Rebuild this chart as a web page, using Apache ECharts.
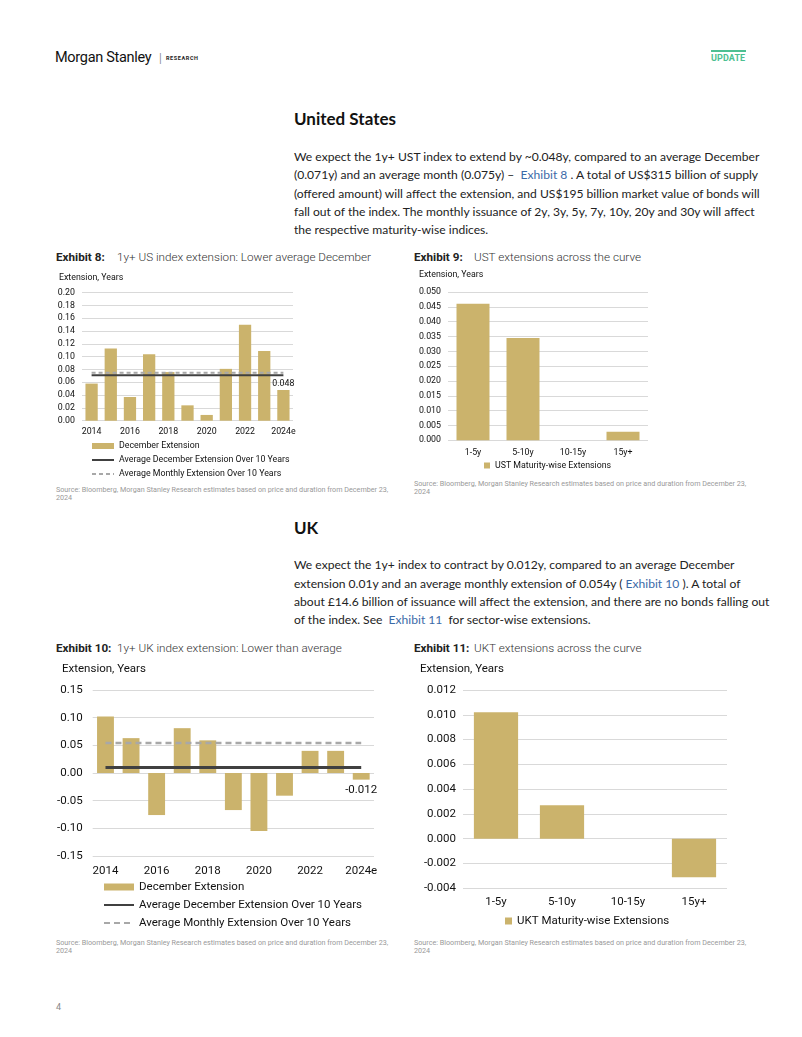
<!DOCTYPE html>
<html><head><meta charset="utf-8">
<script src="https://cdn.jsdelivr.net/npm/echarts@6/dist/echarts.min.js"></script>
<style>
html,body{margin:0;padding:0;background:#fff;}
body{width:802px;height:1037px;position:relative;overflow:hidden;font-family:Lato,"Open Sans",sans-serif;color:#222;}
.t{position:absolute;white-space:nowrap;}
.chart{position:absolute;left:0;top:0;width:802px;height:1037px;}
.p{font-family:Lato,"Open Sans",sans-serif;font-size:12.1px;color:#222;}
.lnk{color:#3b6aa8;}
.ex{font-family:Roboto,sans-serif;font-size:11.7px;color:#222;}
.ex b{font-weight:700;}
.ex span{font-weight:300;color:#333;}
.src{font-family:Roboto,sans-serif;font-size:7.2px;color:#999;line-height:8px;}
</style></head>
<body>
<div class="t" style="left:55px;top:49px;font-family:'Liberation Sans Narrow','Roboto',sans-serif;font-size:14.5px;color:#111;letter-spacing:-0.3px;">Morgan Stanley</div>
<div class="t" style="left:159px;top:51px;font-size:11px;color:#888;">|</div>
<div class="t" style="left:166px;top:55px;font-family:Roboto,sans-serif;font-size:5.5px;font-weight:700;letter-spacing:0.6px;color:#222;">RESEARCH</div>
<div class="t" style="left:711px;top:50px;width:35px;height:2px;background:#4dbf92;"></div>
<div class="t" style="left:711px;top:53px;font-family:Roboto,sans-serif;font-size:9px;font-weight:700;color:#4dbf92;letter-spacing:0.1px;">UPDATE</div>

<div class="t" style="left:294px;top:108px;font-family:Lato,sans-serif;font-size:17px;font-weight:700;color:#111;">United States</div>
<div class="t p" style="left:294px;top:149px;">We expect the 1y+ UST index to extend by ~0.048y, compared to an average December</div>
<div class="t p" style="left:294px;top:167px;">(0.071y) and an average month (0.075y) – &nbsp;<span class="lnk">Exhibit 8</span> . A total of US$315 billion of supply</div>
<div class="t p" style="left:294px;top:185.5px;">(offered amount) will affect the extension, and US$195 billion market value of bonds will</div>
<div class="t p" style="left:294px;top:204px;">fall out of the index. The monthly issuance of 2y, 3y, 5y, 7y, 10y, 20y and 30y will affect</div>
<div class="t p" style="left:294px;top:222px;">the respective maturity-wise indices.</div>

<div class="t ex" style="left:56px;top:250px;"><b>Exhibit 8:</b></div>
<div class="t ex" style="left:117px;top:250px;"><span>1y+ US index extension: Lower average December</span></div>
<div class="t ex" style="left:414px;top:250px;"><b>Exhibit 9:</b></div>
<div class="t ex" style="left:474px;top:250px;"><span>UST extensions across the curve</span></div>

<div class="t src" style="left:56px;top:486px;">Source: Bloomberg, Morgan Stanley Research estimates based on price and duration from December 23,<br>2024</div>
<div class="t src" style="left:414px;top:480px;">Source: Bloomberg, Morgan Stanley Research estimates based on price and duration from December 23,<br>2024</div>

<div class="t" style="left:294px;top:517px;font-family:Lato,sans-serif;font-size:17px;font-weight:700;color:#111;">UK</div>
<div class="t p" style="left:294px;top:557px;">We expect the 1y+ index to contract by 0.012y, compared to an average December</div>
<div class="t p" style="left:294px;top:575.5px;">extension 0.01y and an average monthly extension of 0.054y ( <span class="lnk">Exhibit 10</span> ). A total of</div>
<div class="t p" style="left:294px;top:594px;">about £14.6 billion of issuance will affect the extension, and there are no bonds falling out</div>
<div class="t p" style="left:294px;top:612px;">of the index. See &nbsp;<span class="lnk">Exhibit 11</span> &nbsp;for sector-wise extensions.</div>

<div class="t ex" style="left:56px;top:641px;"><b>Exhibit 10:</b></div>
<div class="t ex" style="left:117px;top:641px;"><span>1y+ UK index extension: Lower than average</span></div>
<div class="t ex" style="left:414px;top:641px;"><b>Exhibit 11:</b></div>
<div class="t ex" style="left:474px;top:641px;"><span>UKT extensions across the curve</span></div>

<div class="t src" style="left:56px;top:939px;">Source: Bloomberg, Morgan Stanley Research estimates based on price and duration from December 23,<br>2024</div>
<div class="t src" style="left:414px;top:939px;">Source: Bloomberg, Morgan Stanley Research estimates based on price and duration from December 23,<br>2024</div>

<div class="t" style="left:56px;top:1002px;font-family:Roboto,sans-serif;font-size:9px;color:#888;">4</div>

<div id="c8" class="chart"></div>
<div id="c9" class="chart"></div>
<div id="c10" class="chart"></div>
<div id="c11" class="chart"></div>

<script>
// ---- data ----
const years = ['2014','2015','2016','2017','2018','2019','2020','2021','2022','2023','2024e'];
const usDecExt = [0.058, 0.113, 0.037, 0.104, 0.076, 0.024, 0.009, 0.081, 0.150, 0.109, 0.048];
const usAvgDec = 0.071;
const usAvgMonth = 0.075;
const maturities = ['1-5y', '5-10y', '10-15y', '15y+'];
const ustExt = [0.0460, 0.0345, 0, 0.0029];
const ukDecExt = [0.102, 0.063, -0.076, 0.081, 0.059, -0.067, -0.105, -0.041, 0.040, 0.040, -0.012];
const ukAvgDec = 0.010;
const ukAvgMonth = 0.054;
const uktExt = [0.0102, 0.0027, 0, -0.0031];
const yTicks8 = {min: 0, max: 0.20, step: 0.02, dec: 2};
const yTicks9 = {min: 0, max: 0.050, step: 0.005, dec: 3};
const yTicks10 = {min: -0.15, max: 0.15, step: 0.05, dec: 2};
const yTicks11 = {min: -0.004, max: 0.012, step: 0.002, dec: 3};

const GOLD = '#cbb36c';
const DARK = '#404040';
const DASH = '#a8a8a8';
const GRID = '#d9d9d9';
const CF = 'Roboto,sans-serif';

function yAxis(t, fs, margin) {
  return {
    type: 'value', min: t.min, max: t.max, interval: t.step,
    axisLine: {show: false}, axisTick: {show: false},
    splitLine: {lineStyle: {color: GRID, width: 1}},
    axisLabel: {fontFamily: CF, fontSize: fs, color: '#111', margin: margin,
      formatter: v => v.toFixed(t.dec)}
  };
}
function xAxis(cats, fs, margin, interval) {
  return {
    type: 'category', data: cats, position: 'bottom',
    axisLine: {show: false, onZero: false}, axisTick: {show: false},
    axisLabel: {fontFamily: CF, fontSize: fs, color: '#111', margin: margin, interval: interval}
  };
}
function nameText(x, y, fs) {
  return {type: 'text', left: x, top: y, style: {text: 'Extension, Years', font: fs + 'px ' + CF, fill: '#111'}};
}
const noSym = {opacity: 0};

// Exhibit 8
const c8 = echarts.init(document.getElementById('c8'));
c8.setOption({
  animation: false,
  grid: {left: 82, top: 292.7, width: 211, height: 128},
  xAxis: xAxis(years, 8.8, 7, 1),
  yAxis: yAxis(yTicks8, 8.8, 7),
  graphic: [nameText(59, 273, 8.8)],
  legend: {orient: 'vertical', left: 91, top: 440, padding: 0, itemWidth: 22, itemHeight: 6, itemGap: 2,
    textStyle: {fontFamily: CF, fontSize: 8.8, color: '#111', lineHeight: 12},
    data: [{name: 'December Extension', icon: 'rect'},
      {name: 'Average December Extension Over 10 Years', itemStyle: noSym},
      {name: 'Average Monthly Extension Over 10 Years', itemStyle: noSym}]},
  series: [
    {name: 'December Extension', type: 'bar', barCategoryGap: '36%', itemStyle: {color: GOLD},
      data: usDecExt.map((v, i) => i === usDecExt.length - 1 ? {value: v, label: {show: true, position: 'top', distance: 2, fontFamily: CF, fontSize: 8.8, color: '#111', formatter: p => p.value.toFixed(3)}} : v)},
    {name: 'Average December Extension Over 10 Years', type: 'line', symbol: 'none', lineStyle: {color: DARK, width: 2}, itemStyle: {color: DARK},
      data: years.map(() => usAvgDec)},
    {name: 'Average Monthly Extension Over 10 Years', type: 'line', symbol: 'none', lineStyle: {color: DASH, width: 2, type: [4, 3]}, itemStyle: {color: DASH},
      data: years.map(() => usAvgMonth)}
  ]
});

// Exhibit 9
const c9 = echarts.init(document.getElementById('c9'));
c9.setOption({
  animation: false,
  grid: {left: 448, top: 292, width: 200, height: 148.3},
  xAxis: xAxis(maturities, 8.8, 8, 0),
  yAxis: yAxis(yTicks9, 8.8, 7),
  graphic: [nameText(419, 270, 8.8)],
  legend: {left: 484, top: 461, padding: 0, itemWidth: 6, itemHeight: 6, itemGap: 4,
    textStyle: {fontFamily: CF, fontSize: 8.8, color: '#111'},
    data: [{name: 'UST Maturity-wise Extensions', icon: 'rect'}]},
  series: [
    {name: 'UST Maturity-wise Extensions', type: 'bar', barCategoryGap: '34%', itemStyle: {color: GOLD}, data: ustExt}
  ]
});

// Exhibit 10
const c10 = echarts.init(document.getElementById('c10'));
c10.setOption({
  animation: false,
  grid: {left: 92.7, top: 690, width: 281.3, height: 166},
  xAxis: xAxis(years, 11.5, 9, 1),
  yAxis: yAxis(yTicks10, 11.5, 10),
  graphic: [nameText(62, 663, 11.5)],
  legend: {orient: 'vertical', left: 103, top: 880, padding: 0, itemWidth: 30, itemHeight: 7, itemGap: 4,
    textStyle: {fontFamily: CF, fontSize: 11.5, color: '#111', lineHeight: 14},
    data: [{name: 'December Extension', icon: 'rect'},
      {name: 'Average December Extension Over 10 Years', itemStyle: noSym},
      {name: 'Average Monthly Extension Over 10 Years', itemStyle: noSym}]},
  series: [
    {name: 'December Extension', type: 'bar', barCategoryGap: '34%', itemStyle: {color: GOLD},
      data: ukDecExt.map((v, i) => i === ukDecExt.length - 1 ? {value: v, label: {show: true, position: 'bottom', distance: 4, fontFamily: CF, fontSize: 11.5, color: '#111', formatter: p => p.value.toFixed(3)}} : v)},
    {name: 'Average December Extension Over 10 Years', type: 'line', symbol: 'none', lineStyle: {color: DARK, width: 3}, itemStyle: {color: DARK},
      data: years.map(() => ukAvgDec)},
    {name: 'Average Monthly Extension Over 10 Years', type: 'line', symbol: 'none', lineStyle: {color: DASH, width: 2.5, type: [6, 4]}, itemStyle: {color: DASH},
      data: years.map(() => ukAvgMonth)}
  ]
});

// Exhibit 11
const c11 = echarts.init(document.getElementById('c11'));
c11.setOption({
  animation: false,
  grid: {left: 463, top: 690, width: 264, height: 198.3},
  xAxis: xAxis(maturities, 11.5, 8, 0),
  yAxis: yAxis(yTicks11, 11.5, 7),
  graphic: [nameText(420, 663, 11.5)],
  legend: {left: 505, top: 915, padding: 0, itemWidth: 7, itemHeight: 7, itemGap: 4,
    textStyle: {fontFamily: CF, fontSize: 11.5, color: '#111'},
    data: [{name: 'UKT Maturity-wise Extensions', icon: 'rect'}]},
  series: [
    {name: 'UKT Maturity-wise Extensions', type: 'bar', barCategoryGap: '33%', itemStyle: {color: GOLD}, data: uktExt}
  ]
});
</script>
</body></html>
